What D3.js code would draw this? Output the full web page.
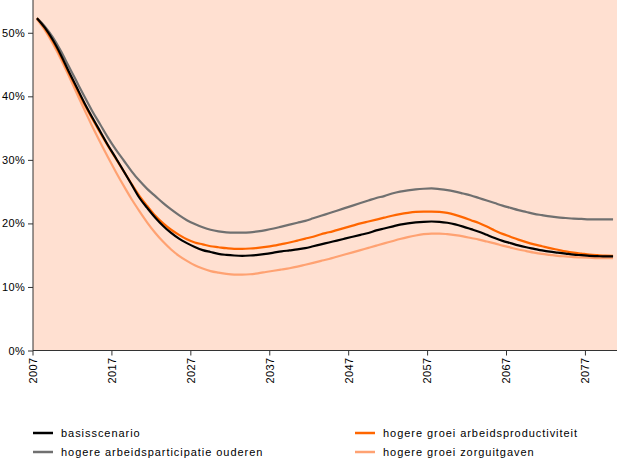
<!DOCTYPE html>
<html><head><meta charset="utf-8">
<script src="https://cdnjs.cloudflare.com/ajax/libs/d3/7.8.5/d3.min.js"></script>
<style>html,body{margin:0;padding:0;background:#fff;}svg{display:block;}</style>
</head><body>
<svg id="chart" width="617" height="459"></svg>
<script>
const years = d3.range(2007, 2081);
const tickYears = [2007, 2017, 2027, 2037, 2047, 2057, 2067, 2077];
const yTicks = [0, 0.1, 0.2, 0.3, 0.4, 0.5];
const seriesNames = ["basisscenario", "hogere groei arbeidsproductiviteit", "hogere arbeidsparticipatie ouderen", "hogere groei zorguitgaven"];
const seriesColors = ["#000000", "#FF6600", "#707070", "#FFA272"];

const basis = [52.3,50.8,48.9,46.6,44.0,41.5,39.0,36.7,34.5,32.3,30.3,28.2,26.1,24.0,22.4,20.9,19.6,18.5,17.6,16.9,16.3,15.8,15.5,15.2,15.05,14.95,14.9,14.95,15.05,15.2,15.4,15.6,15.75,15.9,16.1,16.4,16.7,17.0,17.3,17.6,17.9,18.2,18.5,18.9,19.2,19.5,19.8,20.0,20.15,20.25,20.3,20.25,20.1,19.85,19.5,19.1,18.7,18.2,17.7,17.25,16.9,16.55,16.25,16.0,15.75,15.55,15.4,15.25,15.1,15.0,14.9,14.85,14.8,14.8];
const productiviteit = [52.3,50.7,48.7,46.4,43.8,41.3,38.8,36.5,34.3,32.2,30.2,28.2,26.2,24.3,22.7,21.2,20.0,19.0,18.2,17.5,17.0,16.7,16.4,16.25,16.1,16.0,16.0,16.05,16.15,16.3,16.5,16.75,17.0,17.3,17.6,17.9,18.3,18.6,18.95,19.3,19.65,20.0,20.3,20.6,20.9,21.2,21.45,21.65,21.8,21.85,21.85,21.8,21.65,21.35,20.95,20.5,20.05,19.5,18.9,18.35,17.9,17.45,17.05,16.7,16.4,16.1,15.85,15.6,15.4,15.25,15.1,15.0,14.92,14.9];
const participatie = [52.3,51.0,49.3,47.2,44.8,42.4,40.0,37.7,35.6,33.5,31.6,29.9,28.2,26.7,25.4,24.3,23.2,22.2,21.3,20.5,19.9,19.4,19.0,18.75,18.6,18.55,18.55,18.6,18.75,18.95,19.2,19.5,19.8,20.1,20.4,20.8,21.2,21.6,22.0,22.4,22.8,23.2,23.6,24.0,24.3,24.7,25.0,25.2,25.35,25.45,25.5,25.4,25.25,25.0,24.7,24.4,24.0,23.6,23.2,22.8,22.45,22.1,21.8,21.5,21.3,21.1,20.95,20.85,20.75,20.7,20.65,20.65,20.65,20.65];
const zorg = [52.1,50.4,48.3,45.9,43.3,40.6,37.9,35.3,32.8,30.4,28.1,25.9,23.8,21.9,20.1,18.5,17.1,15.9,14.9,14.1,13.4,12.9,12.5,12.25,12.05,11.95,11.95,12.0,12.15,12.35,12.55,12.75,12.95,13.2,13.5,13.8,14.1,14.4,14.75,15.1,15.45,15.8,16.15,16.5,16.85,17.2,17.55,17.85,18.1,18.3,18.4,18.4,18.3,18.15,17.95,17.7,17.45,17.15,16.85,16.5,16.2,15.9,15.65,15.4,15.2,15.05,14.9,14.8,14.7,14.65,14.6,14.55,14.55,14.55];

const seriesData = [basis, productiviteit, participatie, zorg];
const drawOrder = [2, 3, 1, 0];

const svg = d3.select("#chart");
const font = "'Liberation Sans', Arial, sans-serif";
const L = 33, R = 617, T = 1, B = 350.5;

const x = d3.scaleBand().domain(years).range([L, R]).paddingInner(0).paddingOuter(0);
const y = d3.scaleLinear().domain([0, 0.55]).range([B, T]);

svg.append("rect").attr("x", L).attr("y", 0).attr("width", R - L).attr("height", B - 0)
  .attr("fill", "#FFE0D1");

const line = d3.line()
  .x((d, i) => x(years[i]) + x.bandwidth() / 2)
  .y(d => y(d / 100))
  .curve(d3.curveMonotoneX);

drawOrder.forEach(k => {
  svg.append("path").datum(seriesData[k])
    .attr("d", line)
    .attr("fill", "none")
    .attr("stroke", seriesColors[k])
    .attr("stroke-width", 2.2)
    .attr("stroke-linejoin", "round");
});

// y axis
const yAxis = svg.append("g").attr("transform", `translate(${L},0)`)
  .call(d3.axisLeft(y).tickValues(yTicks).tickFormat(d3.format(".0%")).tickSize(5).tickPadding(3));
yAxis.select(".domain").attr("stroke", "#333").attr("d", `M0,0V${B}`);
yAxis.selectAll(".tick line").attr("stroke", "#333");
yAxis.selectAll("text").attr("font-family", font).attr("font-size", 11).attr("fill", "#000")
  .attr("letter-spacing", "0.3px");

// x axis
const xAxisG = svg.append("g").attr("transform", `translate(0,${B})`);
xAxisG.append("line").attr("x1", L).attr("x2", R).attr("y1", 0).attr("y2", 0).attr("stroke", "#333");
const xt = xAxisG.selectAll("g.xt").data(tickYears).enter().append("g")
  .attr("transform", d => `translate(${x(d)},0)`);
xt.append("line").attr("y1", 0).attr("y2", 5).attr("stroke", "#333");
xt.append("text").text(d => d)
  .attr("transform", "translate(0,7) rotate(-90)")
  .attr("text-anchor", "end").attr("dy", "0.35em")
  .attr("font-family", font).attr("font-size", 11).attr("fill", "#000")
  .attr("letter-spacing", "0.4px");

// legend
const legendItems = [
  {k: 0, lx: 33, ly: 433},
  {k: 2, lx: 33, ly: 452},
  {k: 1, lx: 355, ly: 433},
  {k: 3, lx: 355, ly: 452}
];
const lg = svg.append("g");
legendItems.forEach(it => {
  lg.append("line").attr("x1", it.lx).attr("x2", it.lx + 20).attr("y1", it.ly).attr("y2", it.ly)
    .attr("stroke", seriesColors[it.k]).attr("stroke-width", 2.5);
  lg.append("text").text(seriesNames[it.k]).attr("x", it.lx + 28).attr("y", it.ly).attr("dy", "0.35em")
    .attr("font-family", font).attr("font-size", 11).attr("fill", "#000")
    .attr("letter-spacing", "0.95px");
});
</script>
</body></html>
